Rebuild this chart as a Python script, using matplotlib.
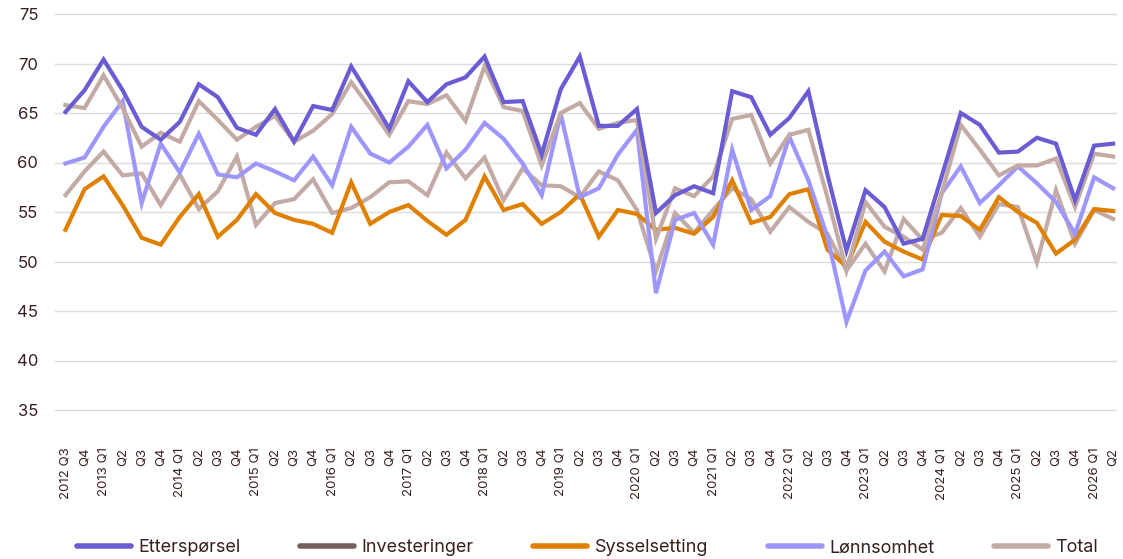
import matplotlib
matplotlib.use("Agg")
import matplotlib.pyplot as plt
from matplotlib.lines import Line2D

# kvartaler 2012 Q3 - 2026 Q2
start_year, start_q, n_quarters = 2012, 3, 56
quarters = []
for i in range(n_quarters):
    k = (start_q - 1) + i
    y, q = start_year + k // 4, k % 4 + 1
    quarters.append(f"{y} Q{q}" if (q == 1 or i == 0) else f"Q{q}")

ettersporsel = [65.1, 67.3, 70.4, 67.3, 63.6, 62.3, 64.1, 67.9, 66.6, 63.5,
                62.8, 65.4, 62.1, 65.7, 65.3, 69.7, 66.6, 63.4, 68.2, 66.1,
                67.9, 68.6, 70.7, 66.1, 66.2, 60.8, 67.4, 70.7, 63.7, 63.7,
                65.4, 54.9, 56.7, 57.6, 56.9, 67.2, 66.6, 62.8, 64.5, 67.2,
                58.8, 51.1, 57.2, 55.5, 51.8, 52.3, 58.6, 65.0, 63.8, 61.0,
                61.1, 62.5, 61.9, 56.2, 61.7, 61.9]
investeringer = [56.7, 59.1, 61.1, 58.7, 58.9, 55.7, 58.8, 55.3, 57.1, 60.6,
                 53.7, 55.9, 56.3, 58.3, 54.9, 55.4, 56.5, 58.0, 58.1, 56.7,
                 61.0, 58.4, 60.5, 56.2, 59.4, 57.7, 57.6, 56.5, 59.1, 58.2,
                 55.2, 49.0, 54.9, 52.9, 55.2, 57.4, 56.3, 53.0, 55.5, 54.0,
                 52.8, 49.1, 51.8, 49.0, 54.3, 52.2, 52.9, 55.4, 52.5, 55.8,
                 55.5, 49.9, 57.2, 51.8, 55.2, 54.3]
sysselsetting = [53.2, 57.3, 58.6, 55.7, 52.4, 51.7, 54.5, 56.8, 52.5, 54.2,
                 56.8, 54.9, 54.2, 53.8, 52.9, 58.0, 53.8, 55.0, 55.7, 54.1,
                 52.7, 54.2, 58.6, 55.2, 55.8, 53.8, 55.0, 56.8, 52.5, 55.2,
                 54.8, 53.2, 53.4, 52.8, 54.5, 58.2, 53.9, 54.5, 56.8, 57.3,
                 51.2, 49.5, 54.0, 52.0, 51.0, 50.2, 54.7, 54.6, 53.2, 56.5,
                 55.0, 53.9, 50.8, 52.2, 55.3, 55.1]
lonnsomhet = [59.9, 60.5, 63.6, 66.2, 55.9, 61.9, 59.0, 62.9, 58.8, 58.5,
              59.9, 59.1, 58.2, 60.6, 57.7, 63.6, 60.9, 60.0, 61.6, 63.8,
              59.4, 61.3, 64.0, 62.4, 59.9, 56.7, 64.9, 56.5, 57.4, 60.8,
              63.3, 46.8, 54.2, 54.9, 51.7, 61.3, 55.2, 56.6, 62.6, 58.2,
              52.5, 43.9, 49.1, 51.0, 48.5, 49.2, 56.9, 59.6, 55.9, 57.7,
              59.6, 57.9, 56.0, 52.8, 58.5, 57.4]
total = [65.8, 65.5, 68.8, 65.5, 61.6, 63.0, 62.1, 66.2, 64.3, 62.3,
         63.6, 64.7, 62.1, 63.2, 64.9, 68.1, 65.5, 62.8, 66.2, 65.9,
         66.8, 64.2, 69.7, 65.6, 65.2, 59.7, 65.0, 66.0, 63.4, 64.0,
         64.3, 52.3, 57.4, 56.6, 58.6, 64.4, 64.8, 59.9, 62.8, 63.3,
         56.5, 49.1, 56.0, 53.5, 52.5, 51.2, 56.9, 63.8, 61.3, 58.7,
         59.7, 59.7, 60.4, 55.5, 60.9, 60.6]

C_ETT, C_INV_LEG, C_SYS, C_LON, C_TOT = "#6a5cd2", "#735f5e", "#df8000", "#9d96fc", "#c3aaa5"
INK = "#3a1f1f"

plt.rcParams.update({"font.family": ["Inter", "DejaVu Sans"], "text.color": INK,
                     "xtick.color": INK, "ytick.color": INK})

fig = plt.figure(figsize=(11.23, 5.59), dpi=100)
ax = fig.add_axes([55 / 1123, 1 - 410 / 559, (1116 - 55) / 1123, (410 - 14) / 559])

x = list(range(n_quarters))
lw = 3.0
ax.plot(x, investeringer, color=C_TOT, lw=lw, solid_joinstyle="miter", zorder=3)
ax.plot(x, sysselsetting, color=C_SYS, lw=lw, solid_joinstyle="miter", zorder=3)
ax.plot(x, lonnsomhet, color=C_LON, lw=lw, solid_joinstyle="miter", zorder=3)
ax.plot(x, total, color=C_TOT, lw=lw, solid_joinstyle="miter", zorder=3)
ax.plot(x, ettersporsel, color=C_ETT, lw=lw, solid_joinstyle="miter", zorder=4)

ax.set_ylim(35, 75)
ax.set_yticks(range(35, 80, 5))
ax.set_xlim(-0.55, n_quarters - 1 + 0.15)
ax.set_xticks(x)
ax.set_xticklabels(quarters, rotation=90, fontsize=9.5, va="top", ha="center")
ax.tick_params(axis="x", length=0, pad=27)
ax.tick_params(axis="y", length=0, labelsize=12, pad=12)
ax.grid(axis="y", color="#dcdcdc", lw=1.0, zorder=0)
for gl in ax.get_ygridlines():
    gl.set_clip_on(False)
for sp in ax.spines.values():
    sp.set_visible(False)

handles = [Line2D([], [], color=c, lw=4, solid_capstyle="round")
           for c in (C_ETT, C_INV_LEG, C_SYS, C_LON, C_TOT)]
labels = ["Etterspørsel", "Investeringer", "Sysselsetting", "Lønnsomhet", "Total"]
fig.legend(handles, labels, loc="center", bbox_to_anchor=(0.523, 1 - 548 / 559), ncol=5,
           frameon=False, fontsize=13, handlelength=3.0, handletextpad=0.4,
           columnspacing=3.3)

fig.savefig("out.png", dpi=100)
